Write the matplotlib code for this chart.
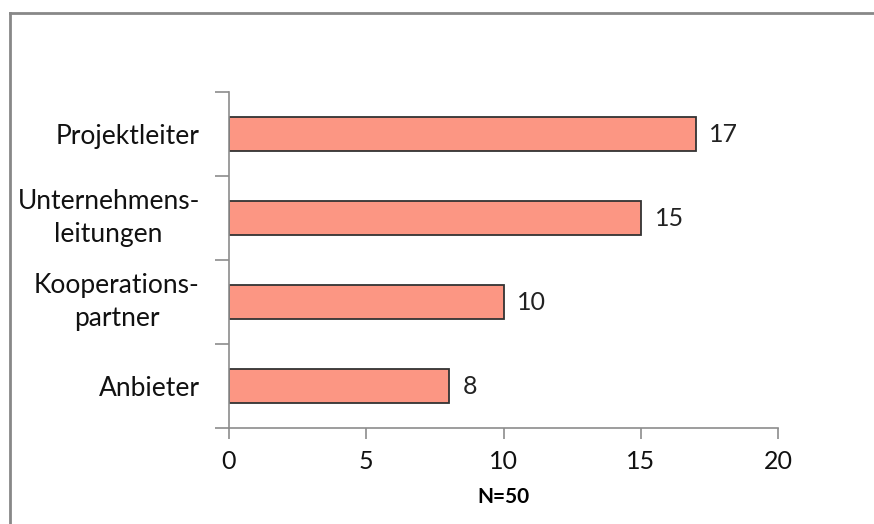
import numpy as np
import matplotlib
matplotlib.use('Agg')
import matplotlib.pyplot as plt
from matplotlib.lines import Line2D

plt.rcParams['font.family'] = ['Lato', 'DejaVu Sans']

categories = ['Projektleiter', 'Unternehmens-\nleitungen', 'Kooperations-\npartner', 'Anbieter']
values = [17, 15, 10, 8]
xticks = [0, 5, 10, 15, 20]
n_label = 'N=50'

W, H = 874, 524
fig = plt.figure(figsize=(W / 100, H / 100), dpi=100)
ax = fig.add_axes([229 / W, 1 - 428 / H, (778 - 229) / W, (428 - 92) / H])

y = np.arange(len(categories))
ax.barh(y, values, height=0.4, color='#FC9683', edgecolor='#333333', linewidth=1.3)
for yi, v in zip(y, values):
    ax.text(v + 0.5, yi, str(v), va='center', ha='left', fontsize=18, color='#222222')

ax.set_ylim(len(categories) - 0.5, -0.5)
ax.set_xlim(0, 20)
ax.set_xticks(xticks)
ax.set_yticks(y)
ax.set_yticklabels(categories, multialignment='center', linespacing=1.4)
for lab in ax.get_yticklabels():
    if '\n' in lab.get_text():
        lab.set_verticalalignment('center')
ax.set_yticks(np.arange(len(categories) + 1) - 0.5, minor=True)

for s in ['top', 'right']:
    ax.spines[s].set_visible(False)
for s in ['left', 'bottom']:
    ax.spines[s].set_color('#8c8c8c')
    ax.spines[s].set_linewidth(1.2)

ax.tick_params(axis='y', which='major', length=0, pad=21, labelsize=19, labelcolor='#111111')
ax.tick_params(axis='y', which='minor', length=10, width=1.2, color='#8c8c8c')
ax.tick_params(axis='x', length=8, width=1.2, color='#8c8c8c', pad=8, labelsize=18, labelcolor='#111111')
ax.set_xlabel(n_label, fontsize=15, fontweight='bold', labelpad=10)

# outer chart frame (only top and left visible in the crop)
fig.add_artist(Line2D([10 / W, 10 / W], [0, 1 - 13 / H], color='#888888', lw=2))
fig.add_artist(Line2D([10 / W, 1], [1 - 13 / H, 1 - 13 / H], color='#888888', lw=2))

fig.savefig('out.png', dpi=100)
